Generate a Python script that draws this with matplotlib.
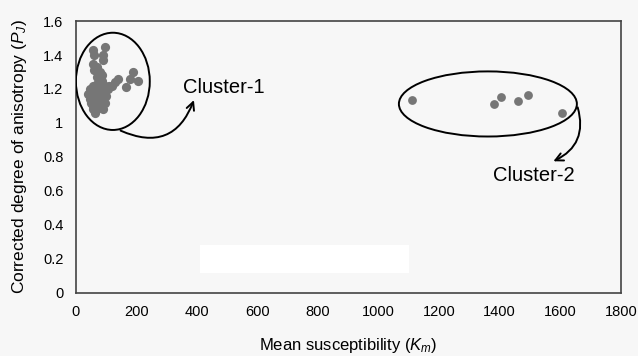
import matplotlib
matplotlib.use("Agg")
import matplotlib.pyplot as plt
from matplotlib.patches import Ellipse, Rectangle

plt.rcParams['font.family'] = ['Liberation Sans', 'DejaVu Sans']
plt.rcParams['mathtext.fontset'] = 'custom'
plt.rcParams['mathtext.rm'] = 'Liberation Sans'
plt.rcParams['mathtext.it'] = 'Liberation Sans:italic'

# cluster 1 (low susceptibility)
km1 = [45, 50, 55, 60, 65, 70, 75, 80, 85, 90, 95, 100, 50, 58, 65, 72, 80, 88,
       62, 55, 45, 40, 75, 85, 68, 105, 110, 95, 70, 60,
       96, 57, 60, 90, 88, 57, 68, 79, 85, 60,
       140, 129, 189, 206, 178, 165, 120]
pj1 = [1.20, 1.17, 1.22, 1.15, 1.19, 1.23, 1.17, 1.21, 1.14, 1.18, 1.22, 1.16, 1.12, 1.10,
       1.13, 1.09, 1.11, 1.08, 1.06, 1.08, 1.14, 1.17, 1.24, 1.25, 1.27, 1.20, 1.22, 1.12,
       1.15, 1.18,
       1.45, 1.43, 1.40, 1.40, 1.37, 1.35, 1.33, 1.30, 1.28, 1.31,
       1.26, 1.24, 1.30, 1.25, 1.26, 1.21, 1.22]

# cluster 2 (high susceptibility)
km2 = [1109, 1380, 1403, 1461, 1492, 1606]
pj2 = [1.135, 1.112, 1.155, 1.127, 1.162, 1.059]

xticks = [0, 200, 400, 600, 800, 1000, 1200, 1400, 1600, 1800]
yticks = [0, 0.2, 0.4, 0.6, 0.8, 1, 1.2, 1.4, 1.6]

bg = '#f7f7f7'
fig = plt.figure(figsize=(6.38, 3.56), dpi=100, facecolor=bg)
ax = fig.add_axes([0.119, 0.177, 0.854, 0.764])
ax.set_facecolor(bg)

ax.scatter(km1, pj1, s=44, color='#767676', zorder=3, linewidths=0)
ax.scatter(km2, pj2, s=40, color='#767676', zorder=3, linewidths=0)

ax.add_patch(Ellipse((122, 1.245), 244, 0.572, fill=False, ec='black', lw=1.4, zorder=4))
ax.add_patch(Ellipse((1361, 1.112), 588, 0.383, fill=False, ec='black', lw=1.4, zorder=4))

ax.annotate('', xy=(393, 1.15), xytext=(139, 0.962),
            arrowprops=dict(arrowstyle='->', lw=1.4, color='black',
                            connectionstyle='arc3,rad=0.55', mutation_scale=14))
ax.annotate('', xy=(1569, 0.768), xytext=(1655, 1.108),
            arrowprops=dict(arrowstyle='->', lw=1.4, color='black',
                            connectionstyle='arc3,rad=-0.45', mutation_scale=14))
ax.text(353, 1.207, 'Cluster-1', fontsize=14.5, va='center', ha='left')
ax.text(1377, 0.692, 'Cluster-2', fontsize=14.5, va='center', ha='left')

ax.set_xlim(0, 1800)
ax.set_ylim(0, 1.6)
ax.set_xticks(xticks)
ax.set_xticklabels([str(v) for v in xticks])
ax.set_yticks(yticks)
ax.set_yticklabels([('%g' % v) for v in yticks])
ax.tick_params(length=0, labelsize=10.5, pad=9)
for sp in ax.spines.values():
    sp.set_color('#444444')
    sp.set_linewidth(1.2)

ax.set_xlabel('Mean susceptibility ($K_m$)', fontsize=12, labelpad=12)
ax.set_ylabel('Corrected degree of anisotropy ($P_J$)', fontsize=12.5, labelpad=10)

# white patch in the lower part of the image
fig.patches.append(Rectangle((200 / 638, 1 - 273 / 356), 209 / 638, 28 / 356,
                             transform=fig.transFigure, fc='white', ec='none', zorder=2))

fig.savefig('out.png', dpi=100, facecolor=bg)
